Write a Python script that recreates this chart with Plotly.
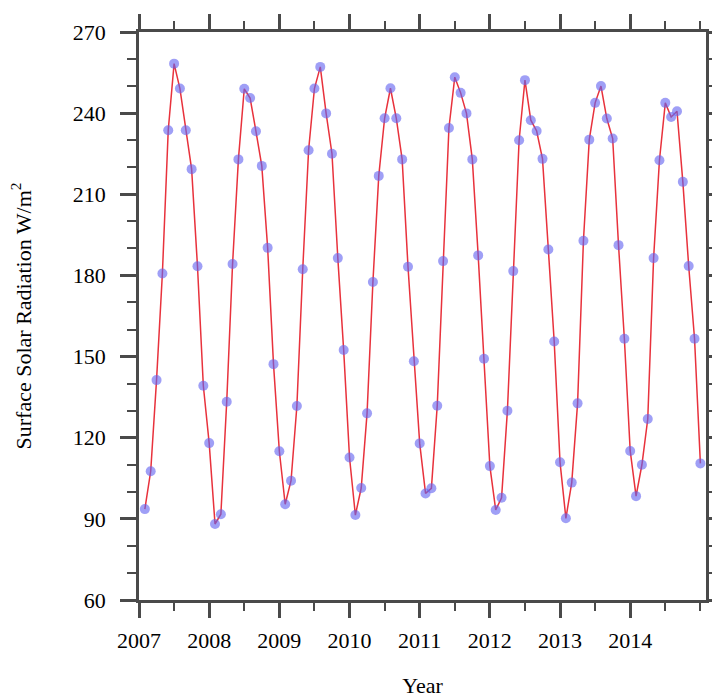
import plotly.graph_objects as go

# Monthly surface solar radiation (W/m^2), Jan 2007 - Dec 2014
years = [2007, 2008, 2009, 2010, 2011, 2012, 2013, 2014]
radiation = {
    2007: [93.6, 107.6, 141.3, 180.7, 233.7, 258.3, 249.1, 233.7, 219.3, 183.4, 139.2, 118.0],
    2008: [88.1, 91.7, 133.3, 184.2, 222.9, 249.0, 245.6, 233.3, 220.5, 190.2, 147.2, 115.0],
    2009: [95.4, 104.1, 131.7, 182.3, 226.3, 249.1, 257.1, 239.9, 225.0, 186.4, 152.4, 112.7],
    2010: [91.4, 101.4, 129.0, 177.6, 216.8, 238.1, 249.2, 238.1, 222.9, 183.2, 148.3, 117.9],
    2011: [99.4, 101.3, 131.8, 185.3, 234.5, 253.3, 247.5, 239.9, 222.9, 187.4, 149.2, 109.5],
    2012: [93.3, 97.8, 130.0, 181.6, 230.0, 252.2, 237.4, 233.4, 223.1, 189.6, 155.6, 110.9],
    2013: [90.2, 103.4, 132.7, 192.8, 230.2, 243.8, 250.0, 238.0, 230.6, 191.2, 156.6, 115.1],
    2014: [98.4, 110.0, 126.9, 186.4, 222.6, 243.8, 238.6, 240.7, 214.6, 183.5, 156.6, 110.5],
}
y_ticks = [60, 90, 120, 150, 180, 210, 240, 270]

# Month m of year y sits at y + m/12
x_vals = []
y_vals = []
for yr in years:
    for m, v in enumerate(radiation[yr], start=1):
        x_vals.append(yr + m / 12.0)
        y_vals.append(v)

fig = go.Figure()
fig.add_trace(go.Scatter(
    x=x_vals, y=y_vals, mode="lines+markers",
    line=dict(color="#e8323c", width=1.5),
    marker=dict(size=10, color="rgba(100,100,240,0.62)", line=dict(width=0)),
    showlegend=False,
))

font = dict(family="Liberation Serif, Times New Roman, serif", size=22, color="black")
axis_color = "#4a4a4a"

fig.update_layout(
    width=712, height=698,
    margin=dict(l=139, r=6, t=32, b=98),
    paper_bgcolor="white", plot_bgcolor="white",
    font=font,
    xaxis=dict(
        range=[2007, 2015.08],
        tickvals=years, ticktext=[str(y) for y in years],
        ticks="outside", ticklen=15, tickwidth=2.5, tickcolor=axis_color,
        minor=dict(dtick=0.5, tick0=2007, ticks="outside", ticklen=8, tickwidth=1.5, tickcolor=axis_color),
        showline=True, linecolor=axis_color, linewidth=2.5, mirror="allticks",
        showgrid=False, zeroline=False, automargin=False,
        ticklabelstandoff=4,
        title=dict(text="Year", font=font, standoff=39),
    ),
    yaxis=dict(
        range=[60, 270],
        tickvals=y_ticks,
        ticks="outside", ticklen=16, tickwidth=2.5, tickcolor=axis_color,
        minor=dict(dtick=10, tick0=60, ticks="outside", ticklen=9, tickwidth=1.5, tickcolor=axis_color),
        showline=True, linecolor=axis_color, linewidth=2.5, mirror="allticks",
        showgrid=False, zeroline=False, automargin=False,
        ticklabelstandoff=10,
        title=dict(text="Surface Solar Radiation W/m<sup>2</sup>", font=font, standoff=36),
    ),
)

fig.write_html("out.html")
